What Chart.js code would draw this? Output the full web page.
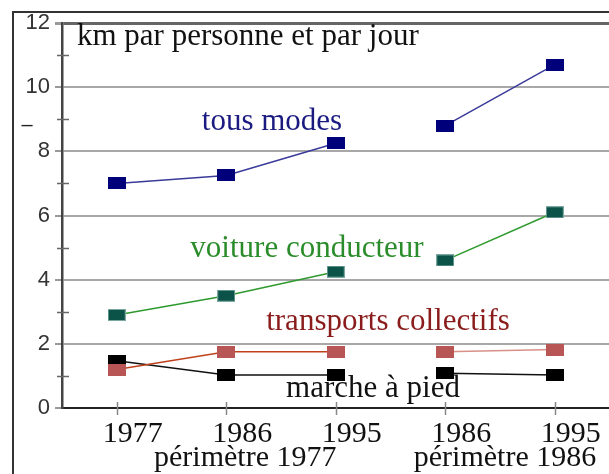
<!DOCTYPE html>
<html>
<head>
<meta charset="utf-8">
<script src="https://cdn.jsdelivr.net/npm/chart.js@4/dist/chart.umd.min.js"></script>
<style>
  html, body { margin: 0; padding: 0; background: #fff; overflow: hidden; }
  #chart { position: absolute; left: 0; top: 0; }
</style>
</head>
<body>
<canvas id="chart" width="620" height="474"></canvas>
<script>
var years = ['1977', '1986', '1995', '1986', '1995'];
var perimetres = ['périmètre 1977', 'périmètre 1986'];
var tousModes = [7.0, 7.25, 8.25, 8.8, 10.7];
var voiture = [2.9, 3.5, 4.25, 4.6, 6.1];
var transports = [1.2, 1.75, 1.75, 1.75, 1.82];
var marche = [1.47, 1.03, 1.03, 1.08, 1.03];
var yTicks = [0, 2, 4, 6, 8, 10, 12];

var serif = '"Liberation Serif", "DejaVu Serif", serif';
var sans = '"Liberation Sans", Arial, sans-serif';

// rectangular markers, a bit wider than tall
function box(fill, stroke) {
  var c = document.createElement('canvas');
  c.width = 18;
  c.height = 12;
  var g = c.getContext('2d');
  g.fillStyle = fill;
  g.fillRect(0, 0, 18, 12);
  if (stroke) {
    g.strokeStyle = stroke;
    g.lineWidth = 1;
    g.strokeRect(0.5, 0.5, 17, 11);
  }
  return c;
}

// no line between the two perimeters
function gap(color, lastColor) {
  return function (ctx) {
    if (ctx.p0DataIndex === 2) return 'rgba(0,0,0,0)';
    if (lastColor && ctx.p0DataIndex === 3) return lastColor;
    return color;
  };
}

var decor = {
  id: 'decor',
  beforeDatasetsDraw: function (chart) {
    var g = chart.ctx;
    var x = chart.scales.x, y = chart.scales.y;
    g.save();
    // outer frame
    g.strokeStyle = '#333';
    g.lineWidth = 2;
    g.beginPath();
    g.moveTo(13, 474);
    g.lineTo(13, 12);
    g.lineTo(chart.width, 12);
    g.stroke();
    // minor ticks on the odd values
    g.strokeStyle = '#666';
    g.lineWidth = 1.5;
    for (var v = 1; v < 12; v += 2) {
      var py = Math.round(y.getPixelForValue(v)) + 0.5;
      g.beginPath();
      g.moveTo(x.left - 5, py);
      g.lineTo(x.left + 7, py);
      g.stroke();
    }
    // category ticks across the x axis
    g.strokeStyle = '#888';
    for (var i = 0; i < years.length; i++) {
      var px = Math.round(x.getPixelForValue(i)) + 0.5;
      g.beginPath();
      g.moveTo(px, y.bottom - 6);
      g.lineTo(px, y.bottom + 7);
      g.stroke();
    }
    g.restore();
  },
  afterDraw: function (chart) {
    var g = chart.ctx;
    var x = chart.scales.x;
    g.save();
    g.textBaseline = 'alphabetic';
    g.font = '31px ' + serif;
    g.textAlign = 'left';
    g.fillStyle = '#111';
    g.fillText('km par personne et par jour', 77, 45);
    g.textAlign = 'center';
    g.fillStyle = '#1a1a80';
    g.fillText('tous modes', 272, 130);
    g.fillStyle = '#2a8c2a';
    g.fillText('voiture conducteur', 307, 257);
    g.fillStyle = '#8a1c1c';
    g.fillText('transports collectifs', 388, 330);
    g.fillStyle = '#111';
    g.fillText('marche à pied', 373, 397);
    // second row of the x labels
    g.font = '30px ' + serif;
    g.fillText(perimetres[0], x.getPixelForValue(1) + 19, 466);
    g.fillText(perimetres[1], (x.getPixelForValue(3) + x.getPixelForValue(4)) / 2 + 5, 466);
    // stray dash left of the axis
    g.font = '20px ' + sans;
    g.fillStyle = '#222';
    g.fillText('–', 27, 131);
    g.restore();
  }
};

new Chart(document.getElementById('chart'), {
  type: 'line',
  data: {
    labels: years,
    datasets: [{
        label: 'tous modes',
        data: tousModes,
        borderColor: '#3a3a9a',
        borderWidth: 1.5,
        pointStyle: box('#00007a'),
        segment: { borderColor: gap('#3a3a9a') },
        order: 3
      },
      {
        label: 'voiture conducteur',
        data: voiture,
        borderColor: '#2e9a2e',
        borderWidth: 1.5,
        pointStyle: box('#0b5248', '#7aa8a0'),
        segment: { borderColor: gap('#2e9a2e') },
        order: 2
      },
      {
        label: 'transports collectifs',
        data: transports,
        borderColor: '#c0401a',
        borderWidth: 1.5,
        pointStyle: box('#b85555'),
        segment: { borderColor: gap('#c0401a', '#d89088') },
        order: 0
      },
      {
        label: 'marche à pied',
        data: marche,
        borderColor: '#111',
        borderWidth: 1.5,
        pointStyle: box('#000'),
        segment: { borderColor: gap('#111') },
        order: 1
      }
    ]
  },
  options: {
    responsive: false,
    animation: false,
    devicePixelRatio: 1,
    layout: { padding: { top: 23, right: 8, left: 0, bottom: 0 } },
    plugins: {
      legend: { display: false },
      tooltip: { enabled: false },
      title: { display: false }
    },
    elements: {
      line: { tension: 0, fill: false },
      point: { radius: 9 }
    },
    scales: {
      x: {
        type: 'category',
        offset: true,
        grid: { display: false },
        border: { display: true, color: '#222', width: 2 },
        ticks: {
          color: '#111',
          font: { family: serif, size: 30 },
          padding: 0,
          labelOffset: 16,
          maxRotation: 0,
          autoSkip: false
        },
        afterFit: function (scale) { scale.height = 66; }
      },
      y: {
        min: 0,
        max: 12,
        afterBuildTicks: function (scale) {
          scale.ticks = yTicks.map(function (v) { return { value: v }; });
        },
        grid: {
          color: function (ctx) {
            if (ctx.tick.value === 0) return 'rgba(0,0,0,0)';
            return ctx.tick.value === 12 ? '#666' : '#a8a8a8';
          },
          lineWidth: function (ctx) { return ctx.tick.value === 12 ? 3 : 2; },
          tickColor: '#999',
          tickLength: 7
        },
        border: { display: true, color: '#444', width: 2.5 },
        ticks: {
          color: '#333',
          font: { family: sans, size: 22 },
          padding: 5
        },
        afterFit: function (scale) { scale.width = 62; }
      }
    }
  },
  plugins: [decor]
});
</script>
</body>
</html>
